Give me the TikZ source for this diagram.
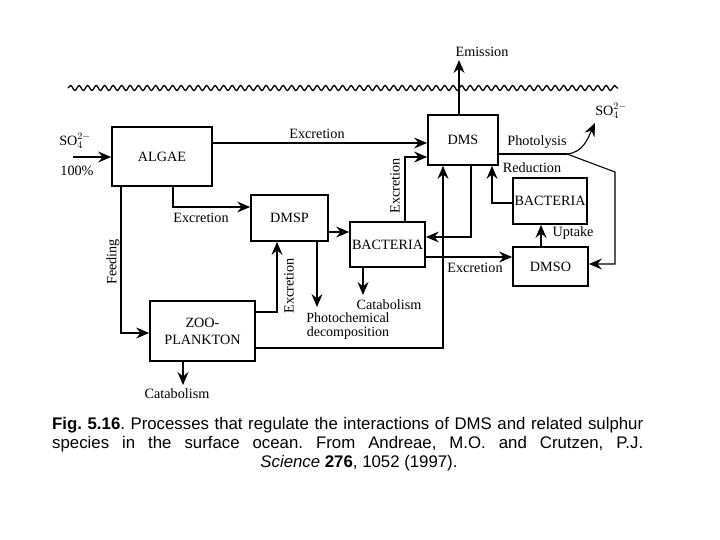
\documentclass[tikz,border=0pt]{standalone}
\usepackage{fontspec}
\setmainfont{Liberation Serif}
\newfontfamily\capfont{Liberation Sans}
\usetikzlibrary{arrows.meta,decorations.pathmorphing}
\begin{document}
\begin{tikzpicture}[x=1pt,y=-1pt,
  every node/.style={font=\fontsize{14.2}{15}\selectfont, inner sep=0pt},
  box/.style={draw, line width=1.8pt, minimum width=#1, align=center},
  arr/.style={line width=1.1pt, -{Stealth[length=13pt,width=11pt,inset=4.5pt]}},
  ln/.style={line width=1.1pt},
  vlbl/.style={rotate=90},
  captext/.style={font=\capfont\fontsize{16.8}{18}\selectfont\frenchspacing}]
\useasboundingbox[fill=white] (0,0) rectangle (720,540);
% sea surface
\draw[line width=1.3pt, decorate, decoration={snake, segment length=8.5pt, amplitude=2.5pt}] (68,88) -- (618,88);
% boxes
\node[box=100pt, minimum height=59pt] (algae) at (162,156.5) {ALGAE};
\node[box=70pt, minimum height=50pt] (dms) at (463,140) {DMS};
\node[box=77pt, minimum height=46pt] (dmsp) at (289.5,218) {DMSP};
\node[box=75pt, minimum height=45pt] (bact1) at (387.5,244.5) {BACTERIA};
\node[box=74pt, minimum height=46pt] (bact2) at (550,201) {BACTERIA};
\node[box=75pt, minimum height=39pt] (dmso) at (550.5,266.5) {DMSO};
\node[box=105pt, minimum height=60pt, font=\fontsize{14.2}{17}\selectfont] (zoo) at (202.5,331) {ZOO-\\PLANKTON};
% free texts
\node (emis) at (482,52) {Emission};
\node (so4l) at (75,141) {SO$_4^{2-}$};
\node (pct) at (77,171) {100\%};
\node (so4r) at (611,111) {SO$_4^{2-}$};
\node (exc1) at (317,134) {Excretion};
\node (exc2) at (201,218) {Excretion};
\node[vlbl] (feed) at (113,262) {Feeding};
\node[vlbl] (exc3) at (289,286) {Excretion};
\node[vlbl] (exc4) at (395,186) {Excretion};
\node (cat1) at (177,394) {Catabolism};
\node[align=center, font=\fontsize{14}{13.5}\selectfont] (photo) at (348,326) {Photochemical\\decomposition};
\node (cat2) at (389,305) {Catabolism};
\node (exc5) at (475,268) {Excretion};
\node (upt) at (573,233) {Uptake};
\node (red) at (532,168) {Reduction};
\node (phl) at (537,142) {Photolysis};
% coordinates
\coordinate (emtip) at (459,60);
\coordinate (so4in) at (73,157);
\coordinate (zcat) at (183,385);
\coordinate (phend) at (317,307);
\coordinate (bcat) at (363,295);
\coordinate (br) at (567,154);
\coordinate (so4tip) at (595,123);
\coordinate (rc1) at (615,172);
\coordinate (rc2) at (615,264);
% connectors
\draw[arr] (dms.north -| emtip) -- (emtip);
\draw[arr] (so4in) -- (algae.west |- so4in);
\draw[arr] (algae.east |- 0,143) -- (dms.west |- 0,143);
\draw[arr] (algae.south -| 173,0) |- (dmsp.west |- 0,207);
\draw[arr] (algae.south -| 121,0) |- (zoo.west |- 0,333);
\draw[arr] (zoo.east |- 0,312) -| (dmsp.south -| 277,0);
\draw[arr] (zoo.south -| zcat) -- (zcat);
\draw[arr] (zoo.east |- 0,348) -| (dms.south -| 443,0);
\draw[arr] (dmsp.east |- 0,232) -- (bact1.west |- 0,232);
\draw[arr] (dmsp.south -| phend) -- (phend);
\draw[arr] (bact1.south -| bcat) -- (bcat);
\draw[arr] (bact1.north -| 405,0) |- (dms.west |- 0,157);
\draw[arr] (dms.south -| 471,0) |- (bact1.east |- 0,237);
\draw[arr] (bact1.east |- 0,257) -- (dmso.west |- 0,257);
\draw[arr] (dmso.north -| 541,0) -- (bact2.south -| 541,0);
\draw[arr] (bact2.west |- 0,203) -| (dms.south -| 492,0);
\draw[ln] (dms.east |- br) -- (br);
\draw[arr] (br) to[out=5,in=-115] (so4tip);
\draw[arr] (br) -- (rc1) -- (rc2) -- (dmso.east |- rc2);
% caption
\node[anchor=west, captext] (cap1) at (52,425) {\makebox[591pt][s]{\textbf{Fig. 5.16}. Processes that regulate the interactions of DMS and related sulphur}};
\node[anchor=west, captext] (cap2) at (52,444) {\makebox[591pt][s]{species in the surface ocean. From Andreae, M.O. and Crutzen, P.J.}};
\node[captext] (cap3) at (359,463) {\textit{Science} \textbf{276}, 1052 (1997).};
\end{tikzpicture}
\end{document}
